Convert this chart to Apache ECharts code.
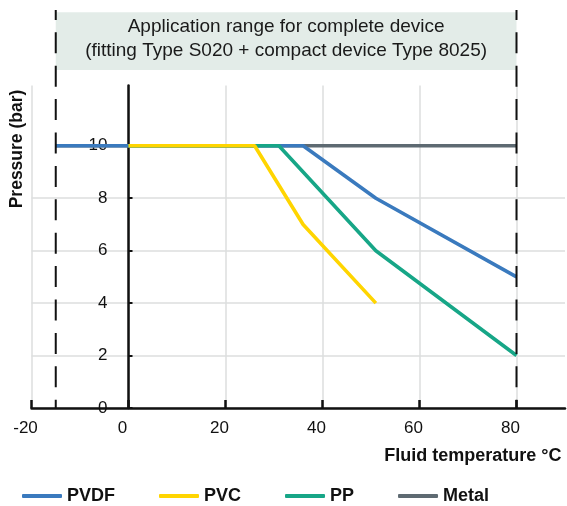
<!DOCTYPE html>
<html><head><meta charset="utf-8">
<script src="https://cdn.jsdelivr.net/npm/echarts@6/dist/echarts.min.js"></script>
<style>html,body{margin:0;padding:0;background:#fff}#c{width:567px;height:506px}</style>
</head><body><div id="c"></div>
<script>
// ---- data ----
const legendNames = ['PVDF', 'PVC', 'PP', 'Metal'];
const pvdfData = [[-15, 10], [36, 10], [51, 8], [80, 5]];
const pvcData = [[0, 10], [26, 10], [36, 7], [51, 4]];
const ppData = [[0, 10], [31, 10], [51, 6], [80, 2]];
const metalData = [[-15, 10], [80, 10]];
const xTickValues = [-20, 0, 20, 40, 60, 80];
const yTickValues = [0, 2, 4, 6, 8, 10];
const rangeLimits = [-15, 80];
const boxLines = ['Application range for complete device', '(fitting Type S020 + compact device Type 8025)'];
const xName = 'Fluid temperature °C';
const yName = 'Pressure (bar)';

const FONT = 'Liberation Sans, Arial, Helvetica, sans-serif';
const colors = { PVDF: '#3a7abe', PVC: '#ffd500', PP: '#17a687', Metal: '#5e6a72' };

const chart = echarts.init(document.getElementById('c'), null, { renderer: 'canvas' });

function lineSeries(name, data) {
  return {
    name, type: 'line', data, symbol: 'none', smooth: false,
    lineStyle: { width: 3.6, color: colors[name] },
    itemStyle: { color: colors[name] },
    emphasis: { disabled: true }
  };
}

chart.setOption({
  animation: false,
  grid: { left: 31.5, right: 2, top: 85.5, bottom: 98, containLabel: false, outerBoundsMode: 'none' },
  xAxis: {
    type: 'value', min: -20, max: 90, interval: 10,
    axisLine: { show: true, onZero: false, lineStyle: { color: '#111', width: 2.5 } },
    axisTick: { show: true, inside: true, length: 8, customValues: xTickValues, lineStyle: { color: '#111', width: 2.5 } },
    axisLabel: { customValues: xTickValues, margin: 12, color: '#111', fontSize: 17, fontFamily: FONT, padding: [0, 12, 0, 0] },
    splitLine: { show: true, lineStyle: { color: '#dcdede', width: 1.5 } }
  },
  yAxis: {
    type: 'value', min: 0, max: 12.3, interval: 2,
    axisLine: { show: true, onZero: false, lineStyle: { color: '#111', width: 2.5 } },
    axisTick: { show: true, inside: true, length: 4, customValues: yTickValues, lineStyle: { color: '#111', width: 2 } },
    axisLabel: { customValues: yTickValues, margin: 21, color: '#111', fontSize: 17, fontFamily: FONT },
    splitLine: { show: true, showMaxLine: false, lineStyle: { color: '#dcdede', width: 1.5 } }
  },
  legend: {
    data: legendNames, left: 17, top: 482, itemWidth: 40, itemHeight: 4, itemGap: 44,
    icon: 'roundRect', selectedMode: false,
    textStyle: { fontSize: 18, fontWeight: 'bold', color: '#111', fontFamily: FONT }
  },
  series: [
    lineSeries('Metal', metalData),
    lineSeries('PVDF', pvdfData),
    lineSeries('PP', ppData),
    lineSeries('PVC', pvcData)
  ]
});

const xLeft = chart.convertToPixel({ xAxisIndex: 0 }, -20);
const xZero = chart.convertToPixel({ xAxisIndex: 0 }, 0);
const xl = chart.convertToPixel({ xAxisIndex: 0 }, rangeLimits[0]);
const xr = chart.convertToPixel({ xAxisIndex: 0 }, rangeLimits[1]);
const y0 = chart.convertToPixel({ yAxisIndex: 0 }, 0);

function dashed(x) {
  return {
    type: 'line', z: 10, silent: true,
    shape: { x1: x, y1: 10, x2: x, y2: y0 },
    style: { stroke: '#111', lineWidth: 2, lineDash: [21, 12.4], lineDashOffset: 11.1 }
  };
}

chart.setOption({
  yAxis: { offset: -(xZero - xLeft) },
  graphic: [
    { type: 'rect', z: 1, silent: true, shape: { x: xl, y: 12.3, width: xr - xl, height: 57.7 }, style: { fill: '#e3ece8' } },
    { type: 'text', z: 2, silent: true, x: (xl + xr) / 2, y: 39,
      style: { text: boxLines.join('\n'), fontSize: 19, fontFamily: FONT, fill: '#1a1a1a', align: 'center', verticalAlign: 'middle', lineHeight: 23.5 } },
    dashed(xl), dashed(xr),
    { type: 'text', z: 2, silent: true, x: 17, y: 149, rotation: Math.PI / 2,
      style: { text: yName, fontSize: 17.5, fontWeight: 'bold', fontFamily: FONT, fill: '#111', align: 'center', verticalAlign: 'middle' } },
    { type: 'text', z: 2, silent: true, x: 561.5, y: 456,
      style: { text: xName, fontSize: 18, fontWeight: 'bold', fontFamily: FONT, fill: '#111', align: 'right', verticalAlign: 'middle' } }
  ]
});
</script>
</body></html>
